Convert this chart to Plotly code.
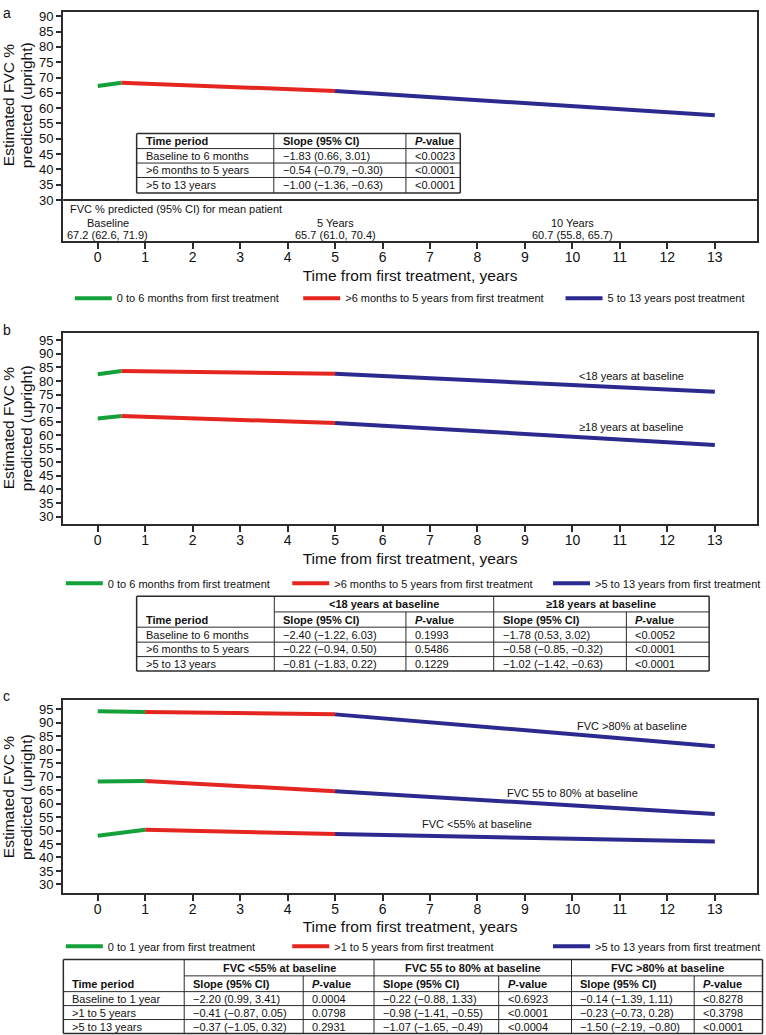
import plotly.graph_objects as go

W, H = 766, 1035
FONT = "Arial, 'Liberation Sans', Helvetica, sans-serif"
GREEN, RED, BLUE = "#15a13a", "#e52620", "#2c2a8f"
SEG_COLORS = [GREEN, RED, BLUE]

# ---------------- data ----------------
years_a = [0, 0.5, 5, 13]
fvc_mean = [67.2, 68.3, 65.6, 57.7]

years_b = [0, 0.5, 5, 13]
fvc_lt18 = [82.5, 83.7, 82.7, 76.0]
fvc_ge18 = [66.2, 67.1, 64.5, 56.4]

years_c = [0, 1, 5, 13]
fvc_lt55 = [48.1, 50.3, 48.7, 45.9]
fvc_55_80 = [68.2, 68.4, 64.6, 56.1]
fvc_gt80 = [94.3, 94.0, 93.1, 81.3]

x_ticks = list(range(0, 14))
y_ticks_a = list(range(30, 91, 5))
y_ticks_bc = list(range(30, 96, 5))

y_title_lines = ["Estimated FVC %", "predicted (upright)"]
x_title = "Time from first treatment, years"

legend_a = ["0 to 6 months from first treatment", ">6 months to 5 years from first treatment",
            "5 to 13 years post treatment"]
legend_b = ["0 to 6 months from first treatment", ">6 months to 5 years from first treatment",
            ">5 to 13 years from first treatment"]
legend_c = ["0 to 1 year from first treatment", ">1 to 5 years from first treatment",
            ">5 to 13 years from first treatment"]

mean_pt_years = [0, 5, 10]
mean_pt_labels = ["Baseline", "5 Years", "10 Years"]
mean_pt_values = ["67.2 (62.6, 71.9)", "65.7 (61.0, 70.4)", "60.7 (55.8, 65.7)"]

tbl_header = ["Time period", "Slope (95% CI)", "<i>P</i>-value"]
a_periods = ["Baseline to 6 months", ">6 months to 5 years", ">5 to 13 years"]
a_slopes = ["−1.83 (0.66, 3.01)", "−0.54 (−0.79, −0.30)", "−1.00 (−1.36, −0.63)"]
a_pvals = ["&lt;0.0023", "&lt;0.0001", "&lt;0.0001"]

b_groups = ["&lt;18 years at baseline", "≥18 years at baseline"]
b_periods = ["Baseline to 6 months", ">6 months to 5 years", ">5 to 13 years"]
b_lt18_slopes = ["−2.40 (−1.22, 6.03)", "−0.22 (−0.94, 0.50)", "−0.81 (−1.83, 0.22)"]
b_lt18_pvals = ["0.1993", "0.5486", "0.1229"]
b_ge18_slopes = ["−1.78 (0.53, 3.02)", "−0.58 (−0.85, −0.32)", "−1.02 (−1.42, −0.63)"]
b_ge18_pvals = ["&lt;0.0052", "&lt;0.0001", "&lt;0.0001"]

c_groups = ["FVC &lt;55% at baseline", "FVC 55 to 80% at baseline", "FVC >80% at baseline"]
c_periods = ["Baseline to 1 year", ">1 to 5 years", ">5 to 13 years"]
c_lt55_slopes = ["−2.20 (0.99, 3.41)", "−0.41 (−0.87, 0.05)", "−0.37 (−1.05, 0.32)"]
c_lt55_pvals = ["0.0004", "0.0798", "0.2931"]
c_55_80_slopes = ["−0.22 (−0.88, 1.33)", "−0.98 (−1.41, −0.55)", "−1.07 (−1.65, −0.49)"]
c_55_80_pvals = ["&lt;0.6923", "&lt;0.0001", "&lt;0.0004"]
c_gt80_slopes = ["−0.14 (−1.39, 1.11)", "−0.23 (−0.73, 0.28)", "−1.50 (−2.19, −0.80)"]
c_gt80_pvals = ["&lt;0.8278", "&lt;0.3798", "&lt;0.0001"]

# ---------------- helpers ----------------
def X(px):
    return px / W

def Y(py):
    return 1 - py / H

shapes, annos = [], []

def seg(x0, y0, x1, y1, w=1.0, color="#2b2b2b"):
    shapes.append(dict(type="line", xref="paper", yref="paper", x0=X(x0), y0=Y(y0),
                       x1=X(x1), y1=Y(y1), line=dict(color=color, width=w)))

def txt(x, y, s, size=11, bold=False, xanchor="left", yanchor="middle", angle=0):
    if bold:
        s = "<b>" + s + "</b>"
    annos.append(dict(xref="paper", yref="paper", x=X(x), y=Y(y), text=s, showarrow=False,
                      xanchor=xanchor, yanchor=yanchor, textangle=angle,
                      font=dict(size=size, family=FONT, color="#111")))

fig = go.Figure()

def add_series(xs, ys, xa, ya, legends, show):
    for i in range(3):
        fig.add_trace(go.Scatter(
            x=xs[i:i + 2], y=ys[i:i + 2], mode="lines",
            line=dict(color=SEG_COLORS[i], width=4),
            xaxis=xa, yaxis=ya, name=legends[i][0], legend=legends[i][1],
            showlegend=show, hoverinfo="skip"))

leg_a = [(legend_a[i], "legend" if i == 0 else "legend%d" % (i + 1)) for i in range(3)]
leg_b = [(legend_b[i], "legend%d" % (i + 4)) for i in range(3)]
leg_c = [(legend_c[i], "legend%d" % (i + 7)) for i in range(3)]

add_series(years_a, fvc_mean, "x", "y", leg_a, True)
add_series(years_b, fvc_lt18, "x2", "y2", leg_b, True)
add_series(years_b, fvc_ge18, "x2", "y2", leg_b, False)
add_series(years_c, fvc_gt80, "x3", "y3", leg_c, True)
add_series(years_c, fvc_55_80, "x3", "y3", leg_c, False)
add_series(years_c, fvc_lt55, "x3", "y3", leg_c, False)

# ---------------- axes ----------------
frame = dict(showline=True, linewidth=2, linecolor="#2b2b2b", mirror=True,
             showgrid=False, zeroline=False, ticks="outside", tickwidth=1.5,
             tickcolor="#2b2b2b")
xr = [-0.729, 13.889]
xdom = [X(63.3), X(759)]
xtitle = dict(text=x_title, font=dict(size=15.5, family=FONT, color="#111"), standoff=6)

panels = [
    ("", [9.3, 239], [16.52, 91.30], y_ticks_a, 102),
    ("2", [331, 522.7], [27.17, 97.69], y_ticks_bc, 426),
    ("3", [699.3, 892.3], [26.93, 98.33], y_ticks_bc, 796),
]
lay = {}
for suf, (top, bot), yr, yt, ymid in panels:
    lay["xaxis" + suf] = dict(frame, domain=xdom, range=xr, tickvals=x_ticks, ticklen=6,
                              ticklabelstandoff=-4, anchor="y" + suf, title=xtitle,
                              tickfont=dict(size=14, family=FONT, color="#111"))
    lay["yaxis" + suf] = dict(frame, domain=[Y(bot), Y(top)], range=yr, tickvals=yt, ticklen=5,
                              anchor="x" + suf,
                              tickfont=dict(size=13, family=FONT, color="#111"))
    txt(8.5, ymid, y_title_lines[0], size=15.5, xanchor="center", angle=-90)
    txt(26.5, ymid, y_title_lines[1], size=15.5, xanchor="center", angle=-90)

# separator line and mean-patient annotation (panel a)
shapes.append(dict(type="line", xref="x domain", yref="y", x0=0, x1=1, y0=30, y1=30,
                   line=dict(color="#2b2b2b", width=2)))
txt(68, 206.7, "FVC % predicted (95% CI) for mean patient")
for i, yr_ in enumerate(mean_pt_years):
    for yy, s in ((220.5, mean_pt_labels[i]), (232.3, mean_pt_values[i])):
        annos.append(dict(xref="x", yref="paper", x=yr_, y=Y(yy), text=s, showarrow=False,
                          xanchor="center", yanchor="middle", xshift=10 if i == 0 else 0,
                          font=dict(size=11, family=FONT, color="#111")))

# line labels
def line_label(xa, ya, x, y, s):
    annos.append(dict(xref=xa, yref=ya, x=x, y=y, text=s, showarrow=False, xanchor="center",
                      yanchor="middle", font=dict(size=11, family=FONT, color="#111")))

line_label("x2", "y2", 11.24, 81.8, b_groups[0])
line_label("x2", "y2", 11.24, 62.9, b_groups[1])
line_label("x3", "y3", 11.25, 88.8, c_groups[2])
line_label("x3", "y3", 10.0, 63.9, c_groups[1])
line_label("x3", "y3", 8.0, 52.4, c_groups[0])

# panel letters
txt(1, 0, "a", size=14, yanchor="top")
txt(1, 318, "b", size=14, yanchor="top")
txt(1, 685, "c", size=14, yanchor="top")

# ---------------- tables ----------------
def box(cols, rows, ow=1.5):
    x0, x1, y0, y1 = cols[0], cols[-1], rows[0], rows[-1]
    seg(x0, y0, x1, y0, ow); seg(x0, y1, x1, y1, ow)
    seg(x0, y0, x0, y1, ow); seg(x1, y0, x1, y1, ow)

PAD = 7
# table a
cols_a = [137, 274.5, 407, 461.5]
rows_a = [131, 146, 160.5, 175, 190.5]
box(cols_a, rows_a)
for r in rows_a[1:-1]:
    seg(cols_a[0], r, cols_a[-1], r, 1)
for c in cols_a[1:-1]:
    seg(c, rows_a[0], c, rows_a[-1], 1)
for j, h in enumerate(tbl_header):
    txt(cols_a[j] + PAD, (rows_a[0] + rows_a[1]) / 2, h, bold=True)
for i in range(3):
    yc = (rows_a[i + 1] + rows_a[i + 2]) / 2
    for j, s in enumerate([a_periods[i], a_slopes[i], a_pvals[i]]):
        txt(cols_a[j] + PAD, yc, s)

def group_table(cols, rows, groups, periods, col_data):
    box(cols, rows)
    seg(cols[1], rows[1], cols[-1], rows[1], 1)
    for r in rows[2:-1]:
        seg(cols[0], r, cols[-1], r, 1)
    for k, c in enumerate(cols[1:-1]):
        if k % 2 == 0:
            seg(c, rows[0], c, rows[-1], 1)
        else:
            seg(c, rows[1], c, rows[-1], 1)
    for g, name in enumerate(groups):
        txt((cols[1 + 2 * g] + cols[3 + 2 * g]) / 2, (rows[0] + rows[1]) / 2, name, bold=True,
            xanchor="center")
        txt(cols[1 + 2 * g] + PAD, (rows[1] + rows[2]) / 2, tbl_header[1], bold=True)
        txt(cols[2 + 2 * g] + PAD, (rows[1] + rows[2]) / 2, tbl_header[2], bold=True)
    txt(cols[0] + PAD, (rows[1] + rows[2]) / 2, tbl_header[0], bold=True)
    for i in range(3):
        yc = (rows[i + 2] + rows[i + 3]) / 2
        txt(cols[0] + PAD, yc, periods[i])
        for j, col in enumerate(col_data):
            txt(cols[j + 1] + PAD, yc, col[i])

group_table([137, 275, 407, 495, 628, 711], [595, 610.7, 626, 641, 655.5, 670],
            b_groups, b_periods, [b_lt18_slopes, b_lt18_pvals, b_ge18_slopes, b_ge18_pvals])
group_table([63.5, 184.7, 304, 375, 500, 573, 696, 764.5], [959.3, 975.7, 991.5, 1005.5, 1019.5, 1033.5],
            c_groups, c_periods, [c_lt55_slopes, c_lt55_pvals, c_55_80_slopes, c_55_80_pvals,
                                  c_gt80_slopes, c_gt80_pvals])

# ---------------- legends ----------------
leg_pos = {"legend": (75, 296), "legend2": (304, 296), "legend3": (567, 296),
           "legend4": (66, 582), "legend5": (293, 582), "legend6": (554.5, 582),
           "legend7": (66, 946), "legend8": (293, 946), "legend9": (554.5, 946)}
for name, (lx, ly) in leg_pos.items():
    lay[name] = dict(x=X(lx - 5), y=Y(ly), xanchor="left", yanchor="middle", orientation="h",
                     bgcolor="rgba(0,0,0,0)", borderwidth=0, itemwidth=37,
                     font=dict(size=11, family=FONT, color="#111"))

fig.update_layout(**lay)
fig.update_layout(width=W, height=H, margin=dict(l=0, r=0, t=0, b=0),
                  paper_bgcolor="white", plot_bgcolor="white", showlegend=True,
                  shapes=shapes, annotations=annos)
fig.write_html("out.html", config={"displayModeBar": False},
               post_script="document.body.style.margin='0px';document.body.style.overflow='hidden';")
